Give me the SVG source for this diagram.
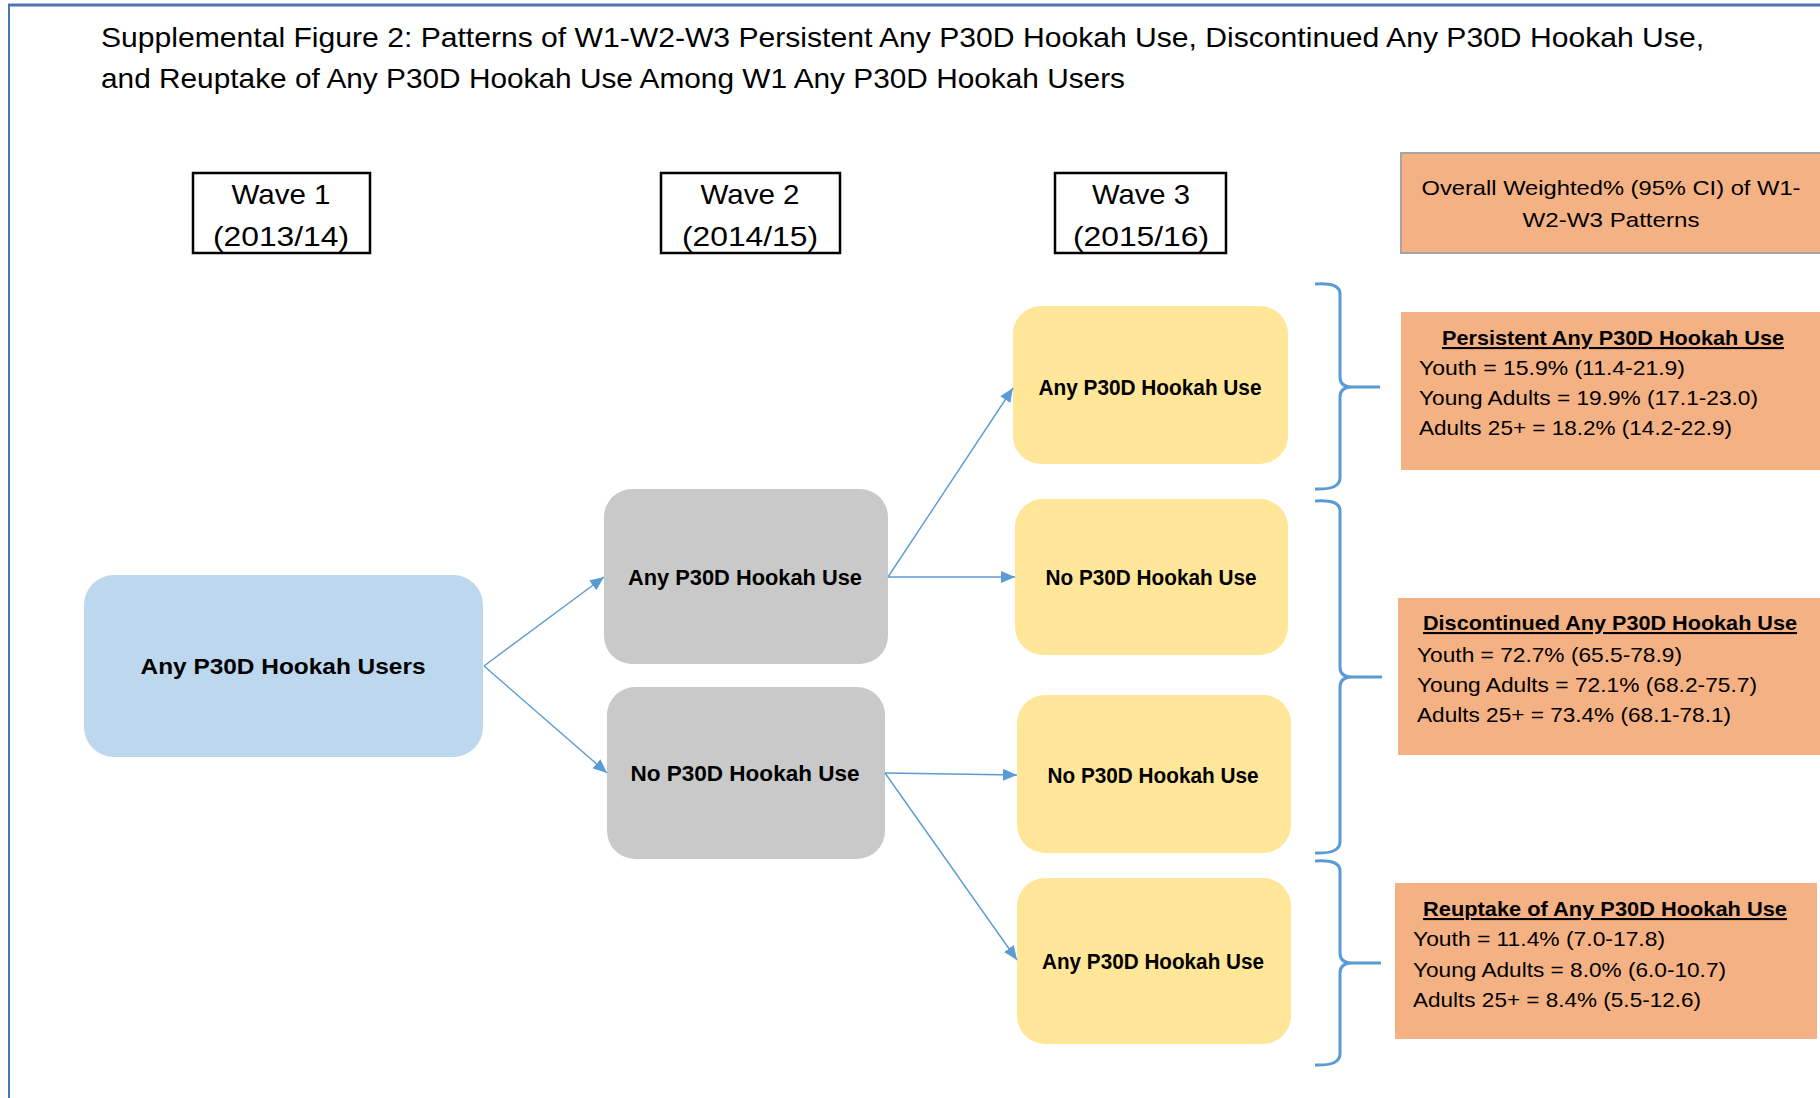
<svg xmlns="http://www.w3.org/2000/svg" width="1820" height="1098" viewBox="0 0 1820 1098">
<style>
text{font-family:"Liberation Sans",Arial,sans-serif;fill:#000}
.title{font-size:28px}
.wave{font-size:28px;text-anchor:middle}
.node{font-size:22px;font-weight:bold;text-anchor:middle}
.body{font-size:21px}
.head{font-size:21px;font-weight:bold;text-decoration:underline}
.wbox{fill:#fff;stroke:#000;stroke-width:2.5}
.conn{stroke:#5B9BD5;stroke-width:1.4;fill:none}
.brace{stroke:#5B9BD5;stroke-width:3;fill:none}
.org{fill:#F4B183}
</style>
<defs>
<marker id="ah" viewBox="0 0 14 12" refX="14" refY="6" markerWidth="14" markerHeight="12" markerUnits="userSpaceOnUse" orient="auto">
<path d="M0,0 L14,6 L0,12 z" fill="#5B9BD5"/>
</marker>
</defs>
<rect width="1820" height="1098" fill="#fff"/>
<g id="frame">
<line x1="8" y1="5" x2="1820" y2="5" stroke="#4A76B0" stroke-width="3"/>
<line x1="9" y1="4" x2="9" y2="1098" stroke="#4A76B0" stroke-width="2"/>
</g>
<g id="title">
<text class="title" x="101" y="47" textLength="1603" lengthAdjust="spacingAndGlyphs">Supplemental Figure 2: Patterns of W1-W2-W3 Persistent Any P30D Hookah Use, Discontinued Any P30D Hookah Use,</text>
<text class="title" x="101" y="88" textLength="1024" lengthAdjust="spacingAndGlyphs">and Reuptake of Any P30D Hookah Use Among W1 Any P30D Hookah Users</text>
</g>
<g id="wave1">
<rect class="wbox" x="193" y="173" width="177" height="80"/>
<text class="wave" x="281" y="204" textLength="99" lengthAdjust="spacingAndGlyphs">Wave 1</text>
<text class="wave" x="281" y="246" textLength="136" lengthAdjust="spacingAndGlyphs">(2013/14)</text>
</g>
<g id="wave2">
<rect class="wbox" x="661" y="173" width="179" height="80"/>
<text class="wave" x="750" y="204" textLength="99" lengthAdjust="spacingAndGlyphs">Wave 2</text>
<text class="wave" x="750" y="246" textLength="136" lengthAdjust="spacingAndGlyphs">(2014/15)</text>
</g>
<g id="wave3">
<rect class="wbox" x="1055" y="173" width="171" height="80"/>
<text class="wave" x="1141" y="204" textLength="98" lengthAdjust="spacingAndGlyphs">Wave 3</text>
<text class="wave" x="1141" y="246" textLength="136" lengthAdjust="spacingAndGlyphs">(2015/16)</text>
</g>
<g id="overall">
<rect x="1401" y="153" width="425" height="100" fill="#F4B183" stroke="#A5A5A5" stroke-width="2"/>
<text class="body" x="1611" y="195" text-anchor="middle" textLength="379" lengthAdjust="spacingAndGlyphs">Overall Weighted% (95% CI) of W1-</text>
<text class="body" x="1611" y="227" text-anchor="middle" textLength="177" lengthAdjust="spacingAndGlyphs">W2-W3 Patterns</text>
</g>
<g id="persistent">
<rect class="org" x="1401" y="312" width="419" height="158"/>
<text class="head" x="1442" y="345" textLength="342" lengthAdjust="spacingAndGlyphs">Persistent Any P30D Hookah Use</text>
<text class="body" x="1419" y="375" textLength="266" lengthAdjust="spacingAndGlyphs">Youth = 15.9% (11.4-21.9)</text>
<text class="body" x="1419" y="405" textLength="339" lengthAdjust="spacingAndGlyphs">Young Adults = 19.9% (17.1-23.0)</text>
<text class="body" x="1419" y="435" textLength="313" lengthAdjust="spacingAndGlyphs">Adults 25+ = 18.2% (14.2-22.9)</text>
</g>
<g id="discontinued">
<rect class="org" x="1398" y="598" width="422" height="157"/>
<text class="head" x="1423" y="630" textLength="374" lengthAdjust="spacingAndGlyphs">Discontinued Any P30D Hookah Use</text>
<text class="body" x="1417" y="662" textLength="265" lengthAdjust="spacingAndGlyphs">Youth = 72.7% (65.5-78.9)</text>
<text class="body" x="1417" y="692" textLength="340" lengthAdjust="spacingAndGlyphs">Young Adults = 72.1% (68.2-75.7)</text>
<text class="body" x="1417" y="722" textLength="314" lengthAdjust="spacingAndGlyphs">Adults 25+ = 73.4% (68.1-78.1)</text>
</g>
<g id="reuptake">
<rect class="org" x="1395" y="883" width="422" height="156"/>
<text class="head" x="1423" y="916" textLength="364" lengthAdjust="spacingAndGlyphs">Reuptake of Any P30D Hookah Use</text>
<text class="body" x="1413" y="946" textLength="252" lengthAdjust="spacingAndGlyphs">Youth = 11.4% (7.0-17.8)</text>
<text class="body" x="1413" y="977" textLength="313" lengthAdjust="spacingAndGlyphs">Young Adults = 8.0% (6.0-10.7)</text>
<text class="body" x="1413" y="1007" textLength="288" lengthAdjust="spacingAndGlyphs">Adults 25+ = 8.4% (5.5-12.6)</text>
</g>
<g id="w1-any">
<rect x="84" y="575" width="399" height="182" rx="30" fill="#BDD7EE"/>
<text class="node" x="283" y="674" textLength="285" lengthAdjust="spacingAndGlyphs">Any P30D Hookah Users</text>
</g>
<g id="w2-any">
<rect x="604" y="489" width="284" height="175" rx="28" fill="#C9C9C9"/>
<text class="node" x="745" y="585" textLength="234" lengthAdjust="spacingAndGlyphs">Any P30D Hookah Use</text>
</g>
<g id="w2-no">
<rect x="607" y="687" width="278" height="172" rx="28" fill="#C9C9C9"/>
<text class="node" x="745" y="781" textLength="229" lengthAdjust="spacingAndGlyphs">No P30D Hookah Use</text>
</g>
<g id="w3-any1">
<rect x="1013" y="306" width="275" height="158" rx="28" fill="#FFE699"/>
<text class="node" x="1150" y="395" textLength="223" lengthAdjust="spacingAndGlyphs">Any P30D Hookah  Use</text>
</g>
<g id="w3-no1">
<rect x="1015" y="499" width="273" height="156" rx="28" fill="#FFE699"/>
<text class="node" x="1151" y="585" textLength="211" lengthAdjust="spacingAndGlyphs">No P30D Hookah Use</text>
</g>
<g id="w3-no2">
<rect x="1017" y="695" width="274" height="158" rx="28" fill="#FFE699"/>
<text class="node" x="1153" y="783" textLength="211" lengthAdjust="spacingAndGlyphs">No P30D Hookah Use</text>
</g>
<g id="w3-any2">
<rect x="1017" y="878" width="274" height="166" rx="28" fill="#FFE699"/>
<text class="node" x="1153" y="969" textLength="222" lengthAdjust="spacingAndGlyphs">Any P30D Hookah  Use</text>
</g>
<g id="connectors">
<line class="conn" x1="484" y1="666" x2="604" y2="577" marker-end="url(#ah)"/>
<line class="conn" x1="484" y1="666" x2="607" y2="773" marker-end="url(#ah)"/>
<line class="conn" x1="888" y1="577" x2="1013" y2="388" marker-end="url(#ah)"/>
<line class="conn" x1="888" y1="577" x2="1015" y2="577" marker-end="url(#ah)"/>
<line class="conn" x1="885" y1="773" x2="1017" y2="775" marker-end="url(#ah)"/>
<line class="conn" x1="885" y1="773" x2="1017" y2="960" marker-end="url(#ah)"/>
<path class="brace" d="M1315,284 Q1340,282 1340,294 L1340,377 Q1340,387 1352,387 L1380,387 M1352,387 Q1340,387 1340,397 L1340,478 Q1340,490 1315,489"/>
<path class="brace" d="M1315,501 Q1340,499 1340,511 L1340,667 Q1340,677 1352,677 L1382,677 M1352,677 Q1340,677 1340,687 L1340,842 Q1340,854 1315,853"/>
<path class="brace" d="M1315,861 Q1340,859 1340,871 L1340,953 Q1340,963 1352,963 L1381,963 M1352,963 Q1340,963 1340,973 L1340,1054 Q1340,1066 1315,1065"/>
</g>
</svg>
